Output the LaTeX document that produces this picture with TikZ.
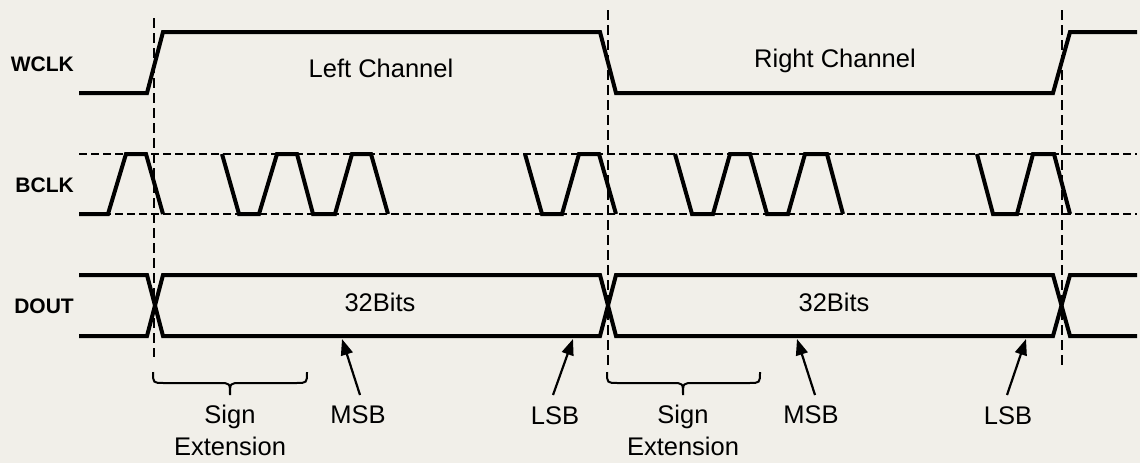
\documentclass[tikz,border=0pt]{standalone}
\usepackage{fontspec}
\setmainfont{Liberation Sans}
\usetikzlibrary{arrows.meta}
\definecolor{paper}{RGB}{241,239,233}
\begin{document}
\begin{tikzpicture}[x=1pt,y=-1pt,
  sig/.style={line width=4pt},
  guide/.style={line width=2.2pt, dash pattern=on 10pt off 5pt},
  hguide/.style={line width=2pt, dash pattern=on 8pt off 4pt},
  lbl/.style={font=\fontsize{25.5}{32}\selectfont, inner sep=0pt, anchor=base},
  sname/.style={font=\bfseries\fontsize{21}{24}\selectfont, inner sep=0pt, anchor=base east},
  ptr/.style={line width=2.2pt, -{Triangle[length=16pt,width=12pt]}},
  bracestyle/.style={line width=2pt}]
\fill[paper] (0,0) rectangle (1140,463);
\useasboundingbox (0,0) rectangle (1140,463);

% signal names
\node[sname] (wclk) at (74,71) {WCLK};
\node[sname] (bclk) at (74,192) {BCLK};
\node[sname] (dout) at (74,313) {DOUT};

% BCLK level guides
\draw[hguide] (79,154) -- (1137,154);
\draw[hguide] (79,214) -- (1137,214);

% vertical guides
\draw[guide] (154,18) -- (154,357);
\draw[guide] (608,10) -- (608,365);
\draw[guide] (1062,10) -- (1062,365);

% WCLK
\draw[sig] (79,93) -- (147,93) -- (163,32) -- (600,32) -- (616,93) -- (1053,93) -- (1070,32) -- (1137,32);

% BCLK
\draw[sig] (79,214) -- (108,214) -- (126,154) -- (146,154) -- (163,214);
\draw[sig] (222,154) -- (239,214) -- (259,214) -- (277,154) -- (297,154) -- (313,214) -- (335,214) -- (352,154) -- (371,154) -- (388,214);
\draw[sig] (525,154) -- (542,214) -- (562,214) -- (579,154) -- (599,154) -- (616,214);
\draw[sig] (675,154) -- (692,214) -- (713,214) -- (730,154) -- (750,154) -- (767,214) -- (788,214) -- (805,154) -- (827,154) -- (843,214);
\draw[sig] (977,154) -- (993,214) -- (1017,214) -- (1033,154) -- (1054,154) -- (1070,214);

% DOUT
\draw[sig] (79,275) -- (147,275) -- (163,336) -- (600,336) -- (616,275) -- (1053,275) -- (1070,336) -- (1137,336);
\draw[sig] (79,336) -- (147,336) -- (163,275) -- (600,275) -- (616,336) -- (1053,336) -- (1070,275) -- (1137,275);

% texts
\node[lbl] (leftch) at (381,77) {Left Channel};
\node[lbl] (rightch) at (835,67) {Right Channel};
\node[lbl] (bits1) at (380,311) {32Bits};
\node[lbl] (bits2) at (834,311) {32Bits};

% braces
\draw[bracestyle] (153,372) .. controls (153,383) .. (164,383) -- (219,383) .. controls (230,383) .. (230,395) .. controls (230,383) .. (241,383) -- (296,383) .. controls (307,383) .. (307,372);
\draw[bracestyle] (607,372) .. controls (607,383) .. (618,383) -- (672,383) .. controls (683,383) .. (683,395) .. controls (683,383) .. (694,383) -- (749,383) .. controls (760,383) .. (760,372);

\node[lbl, align=center] (sign1) at (230,455) {Sign\\Extension};
\node[lbl, align=center] (sign2) at (683,455) {Sign\\Extension};

% MSB / LSB markers
\node[lbl] (msb1) at (358,423) {MSB};
\node[lbl] (lsb1) at (555,424) {LSB};
\node[lbl] (msb2) at (811,423) {MSB};
\node[lbl] (lsb2) at (1008,424) {LSB};

\coordinate (msb1a) at (360,395); \coordinate (msb1t) at (342,339);
\coordinate (lsb1a) at (553,395); \coordinate (lsb1t) at (573,339);
\coordinate (msb2a) at (815,395); \coordinate (msb2t) at (797,339);
\coordinate (lsb2a) at (1007,395); \coordinate (lsb2t) at (1026,339);
\draw[ptr] (msb1a) -- (msb1t);
\draw[ptr] (lsb1a) -- (lsb1t);
\draw[ptr] (msb2a) -- (msb2t);
\draw[ptr] (lsb2a) -- (lsb2t);
\end{tikzpicture}
\end{document}
